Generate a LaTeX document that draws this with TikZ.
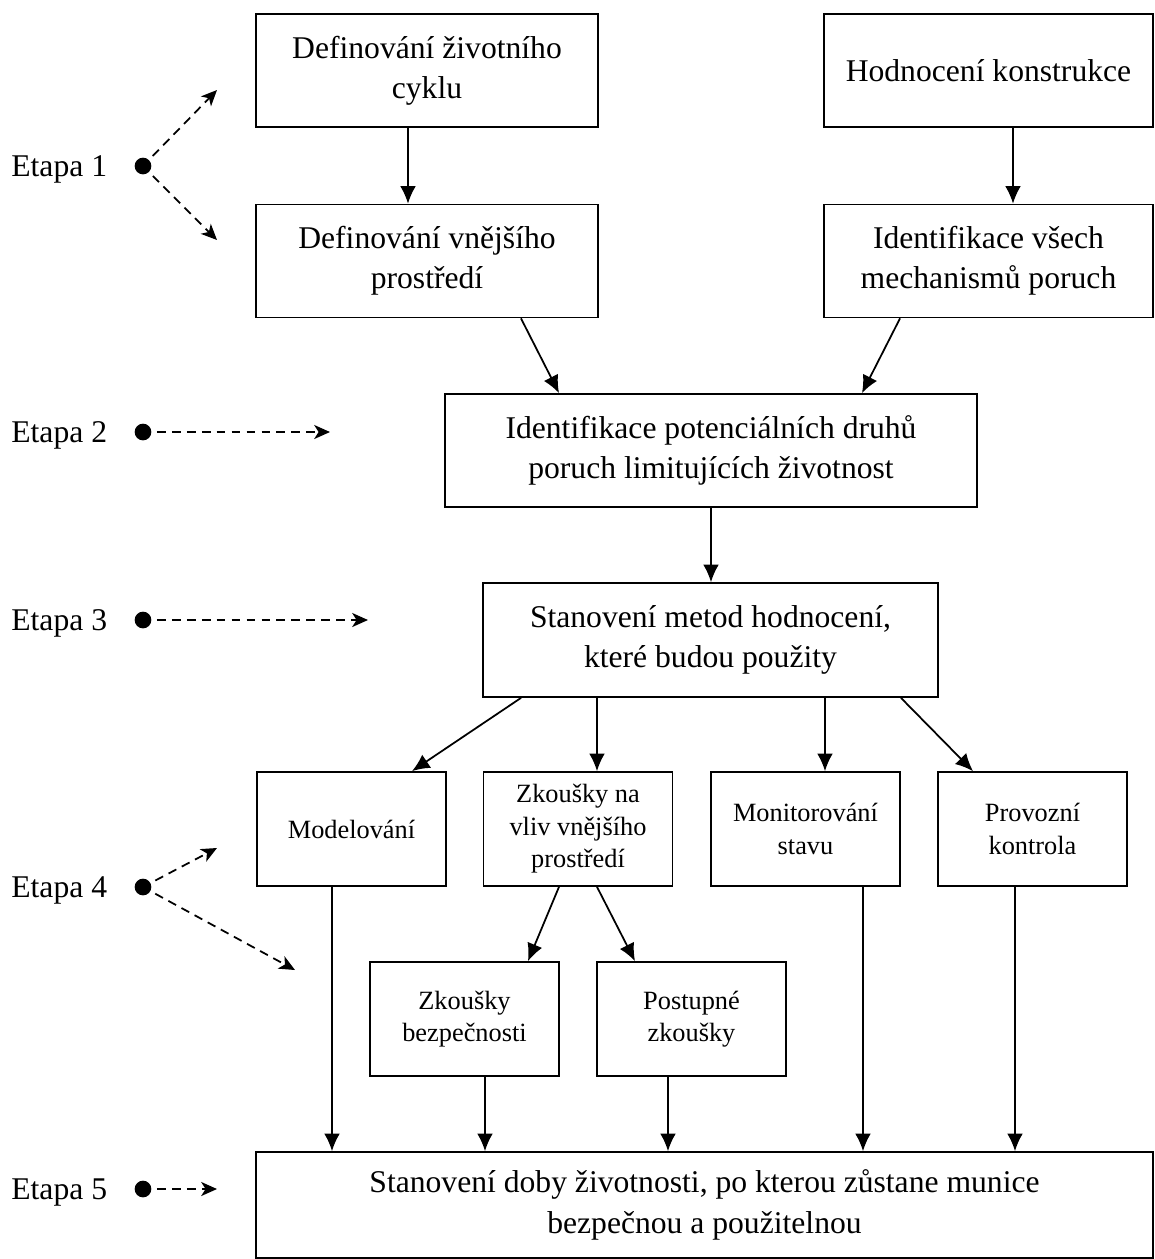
\documentclass[tikz,border=0pt]{standalone}
\usepackage{fontspec}
\setmainfont{Liberation Serif}
\usetikzlibrary{arrows.meta}
\tikzset{box/.style={draw,line width=1pt,align=center,inner sep=0pt,minimum height=2.26cm,font=\fontsize{18}{23}\selectfont}}
\tikzset{smallbox/.style={box,minimum width=3.78cm,minimum height=2.28cm,font=\fontsize{15}{18.5}\selectfont}}
\tikzset{edge/.style={line width=1pt,-{Latex[length=10pt,width=9pt]}}}
\tikzset{hint/.style={line width=1pt,dash pattern=on 5pt off 3.5pt,shorten <=3pt,-{Stealth[length=9pt,width=8pt,inset=2.5pt]}}}
\tikzset{dot/.style={circle,fill,inner sep=0pt,minimum size=9.5pt}}
\tikzset{stage/.style={anchor=base west,inner sep=0pt,font=\fontsize{18}{23}\selectfont}}

\begin{document}
\begin{tikzpicture}[x=0.02cm,y=-0.02cm]
    \useasboundingbox (0,0) rectangle (1155,1259);
    \node[box,minimum width=6.84cm] (cycle) at (427,70.5) {Definování životního\\cyklu};
    \node[box,minimum width=6.58cm] (design) at (988.5,70.5) {Hodnocení konstrukce};
    \node[box,minimum width=6.84cm] (env) at (427,261) {Definování vnějšího\\prostředí};
    \node[box,minimum width=6.58cm] (mech) at (988.5,261) {Identifikace všech\\mechanismů poruch};
    \node[box,minimum width=10.64cm] (modes) at (711,450.5) {Identifikace potenciálních druhů\\poruch limitujících životnost};
    \node[box,minimum width=9.1cm,minimum height=2.28cm] (methods) at (710.5,640) {Stanovení metod hodnocení,\\které budou použity};
    \node[smallbox] (model) at (351.5,829) {Modelování};
    \node[smallbox] (envtest) at (578,829) {Zkoušky na\\vliv vnějšího\\prostředí};
    \node[smallbox] (monitor) at (805.5,829) {Monitorování\\stavu};
    \node[smallbox] (inspect) at (1032.5,829) {Provozní\\kontrola};
    \node[smallbox] (safety) at (464.5,1019) {Zkoušky\\bezpečnosti};
    \node[smallbox] (stepwise) at (691.5,1019) {Postupné\\zkoušky};
    \node[box,minimum width=17.94cm,minimum height=2.12cm] (life) at (704.5,1205) {Stanovení doby životnosti, po kterou zůstane munice\\bezpečnou a použitelnou};

    \draw[edge] ([xshift=-0.38cm]cycle.south) -- ([xshift=-0.38cm]env.north);
    \draw[edge] ([xshift=0.49cm]design.south) -- ([xshift=0.49cm]mech.north);
    \draw[edge] ([xshift=1.88cm]env.south) -- ([xshift=-3.04cm]modes.north);
    \draw[edge] ([xshift=-1.77cm]mech.south) -- ([xshift=3.02cm]modes.north);
    \draw[edge] (modes.south) -- (modes.south |- methods.north);
    \draw[edge] ([xshift=-3.79cm]methods.south) -- ([xshift=1.21cm]model.north);
    \draw[edge] ([xshift=0.38cm]envtest.north |- methods.south) -- ([xshift=0.38cm]envtest.north);
    \draw[edge] ([xshift=0.39cm]monitor.north |- methods.south) -- ([xshift=0.39cm]monitor.north);
    \draw[edge] ([xshift=3.81cm]methods.south) -- ([xshift=-1.19cm]inspect.north);
    \draw[edge] ([xshift=-0.38cm]envtest.south) -- ([xshift=1.27cm]safety.north);
    \draw[edge] ([xshift=0.38cm]envtest.south) -- ([xshift=-1.13cm]stepwise.north);
    \draw[edge] ([xshift=-0.39cm]model.south) -- ([xshift=-0.39cm]model.south |- life.north);
    \draw[edge] ([xshift=0.41cm]safety.south) -- ([xshift=0.41cm]safety.south |- life.north);
    \draw[edge] ([xshift=-0.47cm]stepwise.south) -- ([xshift=-0.47cm]stepwise.south |- life.north);
    \draw[edge] ([xshift=1.15cm]monitor.south) -- ([xshift=1.15cm]monitor.south |- life.north);
    \draw[edge] ([xshift=-0.35cm]inspect.south) -- ([xshift=-0.35cm]inspect.south |- life.north);

    \node[stage] (s1) at (11,176) {Etapa 1};
    \node[stage] (s2) at (11,442) {Etapa 2};
    \node[stage] (s3) at (11,630) {Etapa 3};
    \node[stage] (s4) at (11,897) {Etapa 4};
    \node[stage] (s5) at (11,1199) {Etapa 5};
    \node[dot] (d1) at (143,166) {};
    \node[dot] (d2) at (143,432) {};
    \node[dot] (d3) at (143,620) {};
    \node[dot] (d4) at (143,887) {};
    \node[dot] (d5) at (143,1189) {};
    \coordinate (t1a) at (217,90);
    \coordinate (t1b) at (217,240);
    \coordinate (t2) at (330,432);
    \coordinate (t3) at (368,620);
    \coordinate (t4a) at (217,848);
    \coordinate (t4b) at (295,970);
    \coordinate (t5) at (217,1189);
    \draw[hint] (d1) -- (t1a);
    \draw[hint] (d1) -- (t1b);
    \draw[hint] (d2) -- (t2);
    \draw[hint] (d3) -- (t3);
    \draw[hint] (d4) -- (t4a);
    \draw[hint] (d4) -- (t4b);
    \draw[hint] (d5) -- (t5);
  \end{tikzpicture}
\end{document}
